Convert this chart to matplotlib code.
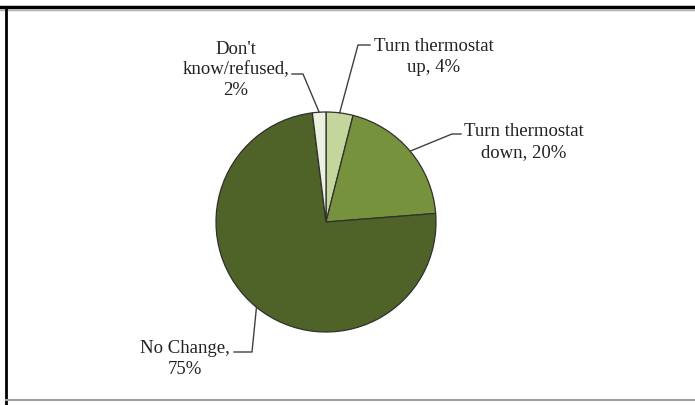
import numpy as np
import matplotlib.pyplot as plt
from matplotlib.lines import Line2D

# --- Dados ---
labels = ["Turn thermostat\nup, 4%", "Turn thermostat\ndown, 20%",
          "No Change,\n75%", "Don't\nknow/refused,\n2%"]
shares = [4, 20, 75, 2]
colors = ["#c3d69b", "#76923c", "#4f6228", "#ebf1de"]

plt.rcParams['font.family'] = ['Liberation Serif', 'DejaVu Serif']

W, H = 695, 405
fig = plt.figure(figsize=(W / 100, H / 100), dpi=100)
ax = fig.add_axes([0, 0, 1, 1])

cx, cy, r = 326, H - 222, 110
wedges, _ = ax.pie(shares, colors=colors, startangle=90, counterclock=False,
                   center=(cx, cy), radius=r, frame=True,
                   wedgeprops=dict(edgecolor='#303030', linewidth=0.9))
ax.set_xlim(0, W)
ax.set_ylim(0, H)
ax.set_aspect('equal')
ax.axis('off')

# posição do texto, cotovelo da linha de chamada e ponta junto ao texto
text_pos = [(434, H - 57), (524, H - 142), (185, H - 359), (236, H - 70)]
elbows = [(358, H - 45), (452, H - 134), (252, H - 352), (303, H - 74)]
ends = [(370, H - 45), (461, H - 134), (234, H - 352), (292, H - 74)]

for w, lab, tp, el, en in zip(wedges, labels, text_pos, elbows, ends):
    ang = np.deg2rad((w.theta1 + w.theta2) / 2)
    px, py = cx + r * np.cos(ang), cy + r * np.sin(ang)
    ax.plot([px, el[0], en[0]], [py, el[1], en[1]], color='#404040', lw=1.0)
    ax.text(tp[0], tp[1], lab, ha='center', va='center', fontsize=13.5,
            linespacing=1.25, color='#222222')

# moldura
fig.add_artist(Line2D([0, 1], [1 - 6.5 / H, 1 - 6.5 / H], color='black', lw=2.5))
fig.add_artist(Line2D([0, 1], [1 - 9.5 / H, 1 - 9.5 / H], color='#b0b0b0', lw=1.0))
fig.add_artist(Line2D([6 / W, 6 / W], [1 - 6.5 / H, 0], color='black', lw=2.0))
fig.add_artist(Line2D([6 / W, 1], [5 / H, 5 / H], color='#a0a0a0', lw=1.5))

fig.savefig('out.png', dpi=100)
